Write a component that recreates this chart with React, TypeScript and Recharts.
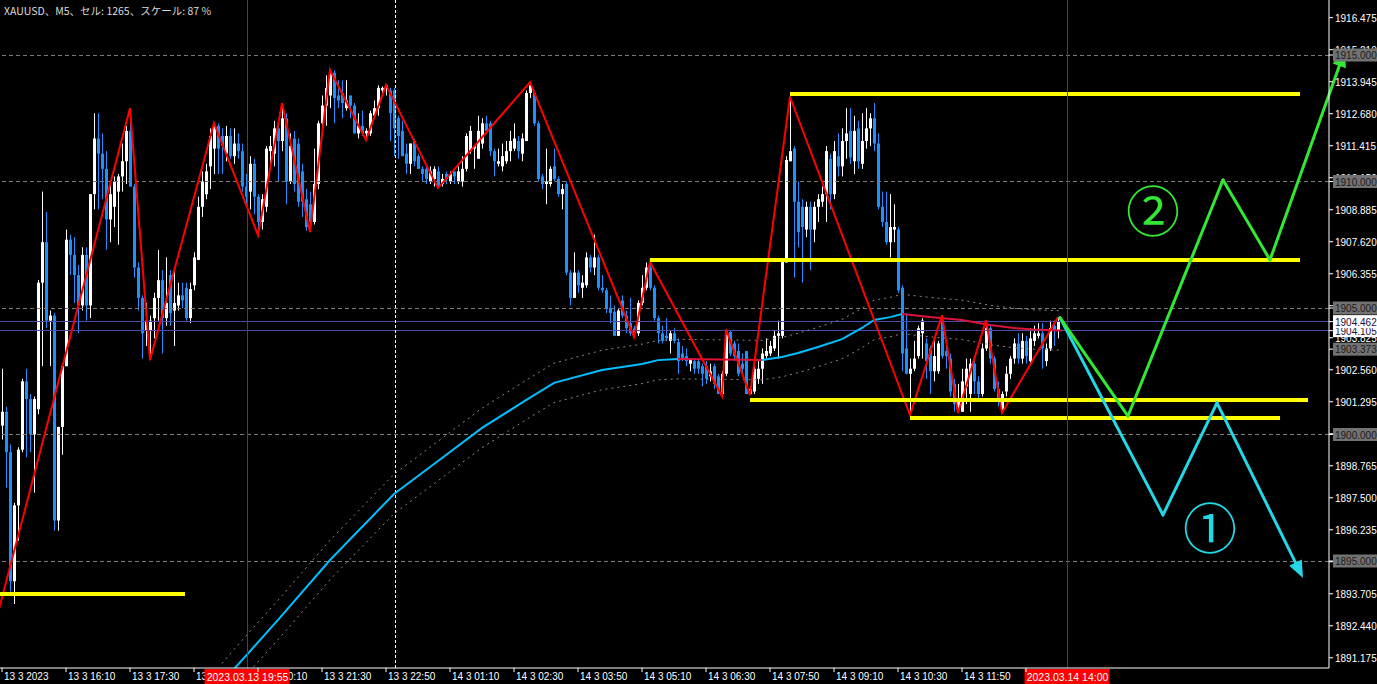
import React from 'react';
import { ComposedChart, Bar, Line, XAxis, YAxis, ReferenceLine, ReferenceDot } from 'recharts';

// XAUUSD M5 candles, [open, high, low, close], one row per 5 minute bar
const OHLC: [number, number, number, number][] = [
  [1900.35, 1902.6, 1899.8, 1900.9], [1900.9, 1901.1, 1897.9, 1899.3], [1899.3, 1899.6, 1893.8, 1894.2], [1894.2, 1897.3, 1893.3, 1897.2],
  [1897.2, 1899.5, 1895.8, 1899.4], [1899.4, 1902.2, 1899.3, 1902.1], [1902.1, 1902.6, 1899.1, 1901.4], [1901.4, 1901.6, 1899.3, 1900.0],
  [1900.0, 1901.5, 1897.7, 1901.4], [1901.0, 1906.1, 1900.8, 1906.0], [1906.0, 1909.6, 1902.7, 1907.6], [1907.6, 1908.8, 1904.2, 1904.5],
  [1904.5, 1904.9, 1902.7, 1904.7], [1904.7, 1904.8, 1896.2, 1896.6], [1896.6, 1900.3, 1896.2, 1900.3], [1900.3, 1902.8, 1899.2, 1902.7],
  [1902.7, 1908.1, 1902.7, 1907.7], [1907.7, 1907.9, 1906.3, 1907.1], [1907.1, 1907.8, 1905.2, 1906.3], [1906.3, 1906.7, 1904.0, 1905.1],
  [1905.1, 1907.4, 1904.9, 1907.1], [1907.1, 1907.4, 1904.5, 1905.1], [1905.1, 1909.5, 1904.6, 1909.5], [1909.5, 1912.7, 1908.9, 1911.7],
  [1911.7, 1912.7, 1908.9, 1911.1], [1911.1, 1911.9, 1909.3, 1910.5], [1910.5, 1911.2, 1907.3, 1908.5], [1908.5, 1909.9, 1907.6, 1909.5],
  [1909.0, 1910.2, 1908.2, 1910.0], [1909.6, 1910.3, 1907.5, 1910.2], [1910.2, 1911.5, 1909.6, 1910.8], [1910.8, 1912.2, 1909.9, 1912.0],
  [1912.0, 1912.9, 1909.8, 1909.8], [1909.8, 1909.9, 1906.2, 1906.6], [1906.6, 1906.8, 1904.9, 1905.4], [1905.4, 1905.5, 1903.0, 1904.0],
  [1904.1, 1905.2, 1903.5, 1904.5], [1904.1, 1904.7, 1902.94, 1904.5], [1904.6, 1905.6, 1903.8, 1905.4], [1905.4, 1907.3, 1904.5, 1906.1],
  [1906.1, 1906.5, 1903.2, 1904.6], [1904.6, 1907.0, 1904.3, 1905.2], [1906.3, 1906.5, 1904.3, 1904.8], [1904.9, 1906.5, 1903.5, 1905.2],
  [1905.1, 1906.0, 1904.9, 1905.5], [1905.5, 1906.0, 1905.0, 1905.3], [1905.8, 1906.0, 1904.5, 1904.6], [1904.6, 1906.0, 1904.4, 1905.75],
  [1905.9, 1907.2, 1905.7, 1907.0], [1906.9, 1909.4, 1906.9, 1909.0], [1909.0, 1910.4, 1908.6, 1910.0], [1909.5, 1910.7, 1909.3, 1910.4],
  [1910.6, 1912.1, 1909.7, 1911.8], [1911.3, 1912.31, 1910.3, 1912.2], [1912.2, 1912.3, 1910.3, 1911.3], [1911.8, 1912.1, 1910.3, 1911.4],
  [1911.1, 1912.2, 1910.8, 1911.8], [1911.8, 1912.1, 1910.9, 1911.0], [1911.0, 1912.1, 1910.7, 1911.5], [1911.5, 1911.9, 1910.9, 1911.2],
  [1911.2, 1911.5, 1909.6, 1909.8], [1909.8, 1910.3, 1909.0, 1909.4], [1909.6, 1911.0, 1908.9, 1910.7], [1910.7, 1910.9, 1908.7, 1909.4],
  [1909.4, 1909.5, 1907.88, 1908.4], [1908.4, 1909.5, 1908.1, 1909.3], [1909.0, 1911.4, 1908.8, 1911.3], [1911.2, 1911.8, 1910.5, 1911.4],
  [1911.1, 1912.4, 1910.6, 1912.1], [1912.1, 1912.4, 1910.0, 1911.6], [1911.6, 1913.1, 1911.2, 1912.5], [1912.5, 1912.7, 1909.1, 1910.0],
  [1910.0, 1911.9, 1909.9, 1911.4], [1911.7, 1912.0, 1909.6, 1909.9], [1911.5, 1911.7, 1909.0, 1909.2], [1910.4, 1910.7, 1908.6, 1909.2],
  [1909.3, 1909.7, 1908.05, 1908.2], [1909.1, 1909.6, 1908.0, 1908.4], [1908.4, 1911.3, 1908.3, 1909.9], [1909.9, 1912.4, 1909.7, 1912.3],
  [1912.3, 1913.4, 1911.9, 1913.0], [1913.0, 1914.2, 1912.2, 1913.7], [1913.4, 1914.41, 1912.9, 1914.3], [1914.3, 1914.4, 1912.3, 1913.3],
  [1913.4, 1914.0, 1912.9, 1913.2], [1913.5, 1914.0, 1912.5, 1913.1], [1912.9, 1914.0, 1912.8, 1913.2], [1913.4, 1913.4, 1912.5, 1913.0],
  [1913.0, 1913.1, 1911.9, 1911.9], [1911.9, 1912.7, 1911.7, 1912.2], [1912.2, 1912.8, 1911.8, 1911.9], [1911.9, 1912.1, 1911.64, 1912.0],
  [1911.9, 1912.8, 1911.8, 1912.7], [1912.6, 1913.2, 1912.5, 1912.9], [1912.9, 1913.8, 1912.6, 1913.7], [1913.6, 1913.75, 1913.4, 1913.7],
  [1913.7, 1913.81, 1913.4, 1913.8], [1913.6, 1913.7, 1911.6, 1912.7], [1913.6, 1913.7, 1911.0, 1912.1], [1912.5, 1912.6, 1910.9, 1911.8],
  [1912.0, 1912.4, 1911.0, 1911.0], [1911.1, 1911.5, 1910.3, 1910.7], [1910.7, 1911.5, 1910.3, 1911.5], [1911.6, 1911.7, 1910.6, 1910.8],
  [1911.0, 1911.1, 1910.5, 1910.5], [1910.5, 1910.6, 1910.0, 1910.3], [1910.5, 1910.6, 1909.9, 1910.1], [1910.0, 1910.6, 1909.9, 1910.4],
  [1910.1, 1910.6, 1909.8, 1910.5], [1910.4, 1910.6, 1909.74, 1909.8], [1909.9, 1910.3, 1909.8, 1910.1], [1910.3, 1910.4, 1909.9, 1910.1],
  [1910.0, 1910.4, 1909.9, 1910.3], [1910.4, 1910.4, 1909.9, 1910.2], [1910.0, 1910.6, 1909.9, 1910.4], [1910.0, 1911.0, 1909.8, 1910.5],
  [1910.5, 1911.9, 1910.4, 1911.8], [1911.2, 1912.2, 1911.1, 1912.0], [1911.3, 1911.4, 1910.5, 1911.4], [1910.9, 1912.6, 1910.9, 1912.0],
  [1911.5, 1912.5, 1911.3, 1912.3], [1912.3, 1912.6, 1911.9, 1912.0], [1912.3, 1912.4, 1911.0, 1911.2], [1911.2, 1911.3, 1910.2, 1910.8],
  [1910.7, 1911.3, 1910.6, 1910.8], [1910.6, 1911.5, 1910.4, 1911.0], [1910.8, 1911.6, 1910.7, 1911.2], [1911.2, 1912.0, 1910.8, 1911.6],
  [1911.3, 1912.3, 1911.2, 1911.7], [1911.6, 1911.8, 1910.9, 1911.2], [1911.1, 1911.9, 1910.8, 1911.7], [1911.6, 1913.6, 1911.6, 1913.5],
  [1913.5, 1913.93, 1913.3, 1913.8], [1913.5, 1913.6, 1912.2, 1912.3], [1912.3, 1912.4, 1910.0, 1910.1], [1910.2, 1910.3, 1909.7, 1909.9],
  [1909.9, 1911.3, 1909.1, 1910.0], [1909.9, 1910.6, 1909.8, 1910.5], [1910.6, 1911.3, 1910.0, 1910.1], [1910.1, 1910.2, 1909.4, 1909.5],
  [1909.5, 1909.9, 1908.9, 1909.7], [1909.9, 1910.0, 1906.3, 1906.4], [1906.4, 1906.5, 1905.1, 1905.4], [1905.4, 1907.2, 1905.4, 1906.4],
  [1906.4, 1906.5, 1905.6, 1905.9], [1905.8, 1906.3, 1905.4, 1906.0], [1905.9, 1907.2, 1905.8, 1907.0], [1907.0, 1907.1, 1906.4, 1906.6],
  [1906.6, 1907.9, 1906.3, 1907.0], [1907.0, 1907.1, 1905.7, 1905.8], [1905.8, 1906.3, 1905.6, 1905.7], [1905.7, 1905.8, 1904.8, 1905.0],
  [1905.0, 1905.5, 1904.4, 1904.8], [1904.85, 1905.1, 1903.9, 1903.9], [1903.9, 1905.0, 1903.9, 1904.9], [1905.3, 1905.5, 1904.6, 1904.7],
  [1904.7, 1904.9, 1904.0, 1904.2], [1904.4, 1905.4, 1903.9, 1904.0], [1904.2, 1904.3, 1903.85, 1904.0], [1904.0, 1905.3, 1903.9, 1905.2],
  [1905.2, 1906.3, 1905.1, 1905.8], [1905.8, 1906.8, 1905.7, 1906.6], [1906.6, 1906.82, 1905.7, 1905.8], [1905.8, 1905.9, 1904.5, 1904.6],
  [1904.6, 1904.7, 1903.6, 1904.0], [1904.0, 1904.3, 1903.6, 1903.7], [1903.9, 1904.6, 1903.7, 1903.8], [1903.7, 1904.1, 1903.2, 1904.0],
  [1904.0, 1904.2, 1903.6, 1903.7], [1903.65, 1903.8, 1902.4, 1902.9], [1903.2, 1903.5, 1902.9, 1903.0], [1903.1, 1903.4, 1902.7, 1902.9],
  [1902.8, 1903.0, 1902.5, 1903.0], [1902.9, 1903.0, 1902.4, 1902.6], [1902.9, 1903.0, 1902.4, 1902.6], [1902.7, 1902.8, 1901.9, 1902.4],
  [1902.7, 1902.9, 1902.0, 1902.2], [1902.3, 1902.8, 1902.1, 1902.5], [1902.7, 1902.8, 1901.8, 1902.0], [1902.3, 1902.4, 1901.6, 1901.6],
  [1901.6, 1902.5, 1901.52, 1902.4], [1902.4, 1904.16, 1902.3, 1904.1], [1904.05, 1904.1, 1903.1, 1903.2], [1903.6, 1903.7, 1902.9, 1903.1],
  [1903.3, 1903.6, 1902.3, 1902.4], [1902.8, 1903.2, 1902.4, 1902.6], [1903.3, 1903.3, 1901.6, 1901.6], [1901.6, 1901.9, 1901.56, 1901.8],
  [1901.7, 1902.7, 1901.6, 1902.6], [1902.2, 1902.9, 1902.0, 1902.6], [1902.6, 1903.4, 1902.0, 1903.2], [1903.1, 1903.8, 1903.0, 1903.3],
  [1903.2, 1903.7, 1903.1, 1903.5], [1903.4, 1904.1, 1903.3, 1903.9], [1903.9, 1904.5, 1903.0, 1904.0], [1903.9, 1906.9, 1903.8, 1906.9],
  [1906.8, 1911.0, 1906.8, 1910.85], [1910.8, 1913.35, 1910.8, 1911.2], [1911.3, 1911.4, 1906.2, 1909.2], [1909.2, 1910.0, 1907.4, 1908.0],
  [1909.0, 1909.3, 1906.0, 1908.2], [1908.1, 1909.2, 1907.8, 1909.0], [1909.0, 1909.2, 1906.5, 1908.1], [1908.1, 1909.2, 1907.6, 1909.0],
  [1909.0, 1909.5, 1908.4, 1909.3], [1909.2, 1909.8, 1909.0, 1909.5], [1909.5, 1911.4, 1908.4, 1911.2], [1910.9, 1911.1, 1908.9, 1909.5],
  [1909.5, 1911.6, 1909.3, 1911.2], [1911.0, 1911.9, 1910.2, 1910.6], [1910.6, 1912.1, 1910.2, 1911.6], [1911.6, 1912.9, 1910.9, 1911.9],
  [1912.0, 1912.9, 1910.7, 1910.95], [1910.8, 1912.6, 1910.3, 1912.0], [1912.1, 1912.4, 1910.5, 1910.8], [1910.7, 1912.7, 1910.5, 1911.6],
  [1911.6, 1912.9, 1911.3, 1912.1], [1912.1, 1912.7, 1911.4, 1912.5], [1912.5, 1913.1, 1911.2, 1911.5], [1911.5, 1911.9, 1908.9, 1909.0],
  [1909.0, 1909.6, 1908.2, 1908.4], [1908.4, 1909.6, 1907.5, 1907.6], [1907.6, 1909.5, 1907.0, 1908.2], [1908.1, 1909.1, 1907.6, 1908.2],
  [1908.1, 1908.2, 1905.6, 1905.7], [1905.8, 1905.9, 1902.5, 1903.2], [1903.4, 1904.8, 1902.4, 1902.4], [1902.4, 1903.0, 1900.77, 1902.6],
  [1902.6, 1903.7, 1902.5, 1903.0], [1903.1, 1904.3, 1903.0, 1904.2], [1904.0, 1904.6, 1903.0, 1904.5], [1903.6, 1903.8, 1902.2, 1902.9],
  [1903.4, 1903.5, 1901.6, 1902.5], [1902.5, 1903.7, 1902.1, 1903.1], [1902.5, 1903.7, 1902.4, 1903.6], [1904.5, 1904.72, 1903.0, 1903.1],
  [1903.3, 1903.5, 1902.6, 1903.1], [1903.0, 1903.2, 1901.5, 1901.7], [1902.0, 1902.2, 1900.9, 1901.2], [1901.1, 1902.0, 1900.85, 1901.3],
  [1900.9, 1902.6, 1900.9, 1902.1], [1901.9, 1903.0, 1901.2, 1902.6], [1901.6, 1903.0, 1900.9, 1902.8], [1902.8, 1903.0, 1901.6, 1902.1],
  [1902.1, 1902.3, 1901.4, 1901.6], [1901.6, 1903.6, 1901.5, 1903.4], [1903.4, 1904.52, 1903.3, 1904.2], [1904.2, 1904.3, 1902.8, 1903.0],
  [1903.0, 1903.1, 1901.7, 1901.8], [1901.8, 1902.1, 1901.1, 1901.3], [1901.0, 1901.7, 1900.85, 1901.6], [1901.7, 1902.7, 1901.5, 1902.4],
  [1902.4, 1903.1, 1902.2, 1903.0], [1903.0, 1903.8, 1902.8, 1903.6], [1903.6, 1904.0, 1902.8, 1903.0], [1903.0, 1904.0, 1902.8, 1903.7],
  [1903.7, 1903.9, 1902.8, 1903.1], [1902.9, 1904.2, 1902.8, 1903.8], [1903.7, 1904.3, 1903.5, 1904.0], [1903.9, 1904.4, 1903.8, 1904.0],
  [1904.0, 1904.4, 1902.6, 1903.4], [1902.9, 1903.6, 1902.7, 1903.4], [1903.4, 1904.5, 1903.3, 1904.2], [1904.3, 1904.5, 1903.5, 1904.1],
  [1904.1, 1904.64, 1903.8, 1904.46],
];

// time axis: bar index of each label and its text
const TIME_TICK_INDEX = [0, 16, 32, 48, 64, 80, 96, 112, 128, 144, 160, 176, 192, 208, 224, 240, 256];
const TIME_TICK_LABELS = [
  '13 3 2023', '13 3 16:10', '13 3 17:30', '13 3 18:50', '13 3 20:10', '13 3 21:30', '13 3 22:50', '14 3 01:10',
  '14 3 02:30', '14 3 03:50', '14 3 05:10', '14 3 06:30', '14 3 07:50', '14 3 09:10', '14 3 10:30', '14 3 11:50', '14 3 13:10',
];

// price scale labels
const PRICE_TICKS = [
  1916.475, 1915.21, 1913.945, 1912.68, 1911.415, 1910.15, 1908.885, 1907.62, 1906.355, 1905.09, 1903.825,
  1902.56, 1901.295, 1900.03, 1898.765, 1897.5, 1896.235, 1894.97, 1893.705, 1892.44, 1891.175,
];
const GRID_LEVELS = [1915, 1910, 1905, 1900, 1895];
const GREY_BOX_PRICES = [1915, 1910, 1905, 1900, 1895, 1903.373];
const WHITE_BOX_PRICES = [1904.105, 1904.462];
const BID_LINES = [1904.462, 1904.105];

// zigzag swing points
const ZZ_INDEX = [-2, 32, 37, 53, 64, 70, 77, 82, 91, 96, 109, 132, 158, 162, 180, 181, 187, 197, 227, 235, 239, 246, 250, 264];
const ZZ_PRICE = [
  1892.35, 1912.9, 1902.94, 1912.31, 1907.88, 1913.1, 1908.0, 1914.41, 1911.64, 1913.81, 1909.74, 1913.93,
  1903.85, 1906.82, 1901.52, 1904.16, 1901.56, 1913.35, 1900.77, 1904.72, 1900.85, 1904.52, 1900.85, 1904.64,
];

// moving average, split where its colour flips (rising = sky blue, falling = crimson)
const MA_UP_1 = [[55, 1890.17], [58, 1890.73], [69, 1892.67], [82, 1895.04], [98, 1897.65], [110, 1899.07], [120, 1900.26],
  [131, 1901.36], [138, 1902.04], [150, 1902.55], [160, 1902.79], [164, 1902.94], [169, 1902.98]];
const MA_DOWN_1 = [[169, 1902.98], [180, 1902.96], [190, 1902.94]];
const MA_UP_2 = [[190, 1902.94], [195, 1903.06], [199, 1903.22], [204, 1903.46], [210, 1903.77], [215, 1904.21], [218, 1904.53],
  [222, 1904.64], [225, 1904.76]];
const MA_DOWN_2 = [[225, 1904.76], [232, 1904.64], [240, 1904.53], [247, 1904.33], [253, 1904.21], [258, 1904.15], [265, 1904.11]];
const ENVELOPE_WIDTH = 0.78;

// yellow support / resistance levels
const LEVEL_PRICE = [1893.7, 1906.9, 1913.46, 1901.36, 1900.65];
const LEVEL_FROM = [-0.5, 162, 197, 187, 227];
const LEVEL_TO = [45.75, 324.5, 324.5, 326.5, 319.5];

// scenario paths
const GREEN_X = [264.5, 281.5, 305.25, 317, 335.75];
const GREEN_P = [1904.62, 1900.73, 1910.06, 1906.9, 1915.2];
const CYAN_X = [264.5, 290.25, 303.75, 325.25];
const CYAN_P = [1904.62, 1896.82, 1901.25, 1894.33];

const BULL = '#ffffff';
const BEAR = '#1e90ff';
const GREEN = '#33e833';
const CYAN = '#22d8e6';
const FONT = '"Liberation Sans", Arial, sans-serif';

const candleData = OHLC.map(([o, h, l, c], i) => ({ i, o, h, l, c, range: [l, h] }));
const toPts = (arr: number[][]) => arr.map(([i, p]) => ({ i, p }));
const maAll = [...MA_UP_1, ...MA_DOWN_1.slice(1), ...MA_UP_2.slice(1), ...MA_DOWN_2.slice(1)];
const envUpper = maAll.map(([i, p]) => ({ i, p: p + ENVELOPE_WIDTH }));
const envLower = maAll.map(([i, p]) => ({ i, p: p - ENVELOPE_WIDTH }));
const zigzag = ZZ_INDEX.map((i, k) => ({ i, p: ZZ_PRICE[k] }));

const Candle = (props: any) => {
  const { x, y, width, height, payload } = props;
  if (x == null || !payload) return null;
  const { o, h, l, c } = payload;
  const top = Math.min(y, y + height);
  const span = Math.abs(height);
  const py = (v: number) => (h === l ? top : top + ((h - v) / (h - l)) * span);
  const color = c >= o ? BULL : BEAR;
  const col = Math.round(x + width / 2);
  const bTop = py(Math.max(o, c));
  const bBot = py(Math.min(o, c));
  return (
    <g>
      <line x1={col + 0.5} x2={col + 0.5} y1={top} y2={top + span} stroke={color} strokeWidth={1} />
      <rect x={col - 1} y={bTop} width={3} height={Math.max(1, bBot - bTop)} fill={color} />
    </g>
  );
};

const EmptyTick = () => <g />;

const PriceTick = (props: any) => {
  const { x, y, payload } = props;
  const v = payload.value as number;
  const txt = v.toFixed(3);
  if (GREY_BOX_PRICES.includes(v) || WHITE_BOX_PRICES.includes(v)) {
    const white = WHITE_BOX_PRICES.includes(v);
    return (
      <g>
        <rect x={x - 2} y={y - 6.5} width={48} height={13} fill={white ? '#ffffff' : '#727272'} />
        <text x={x} y={y + 4} fill={white ? '#1a1040' : '#1c1c1c'} fontSize={10} fontFamily={FONT}>{txt}</text>
      </g>
    );
  }
  return (
    <text x={x} y={y + 4} fill="#ffffff" fontSize={10} fontFamily={FONT}>{txt}</text>
  );
};

// time labels drawn as reference-line labels so the red cursor boxes can sit on top of them
const timeLabel = (text: string) => (p: any) => {
  const vb = p.viewBox || {};
  return (
    <text x={vb.x + 2} y={680} fill="#ffffff" fontSize={10} fontFamily={FONT}>{text}</text>
  );
};

const cursorLabel = (text: string) => (p: any) => {
  const vb = p.viewBox || {};
  const cx = vb.x;
  const bottom = (vb.y || 0) + (vb.height || 0);
  return (
    <g>
      <rect x={cx - 43} y={bottom + 1} width={85} height={16} fill="#ff0000" />
      <text x={cx} y={bottom + 13} fill="#ffffff" fontSize={10.5} fontFamily={FONT} textAnchor="middle">{text}</text>
    </g>
  );
};

const arrowShape = (color: string) => (p: any) => {
  const { x1, y1, x2, y2 } = p;
  const a = Math.atan2(y2 - y1, x2 - x1);
  const len = 17;
  const half = 7;
  const bx = x2 - len * Math.cos(a);
  const by = y2 - len * Math.sin(a);
  const pts = [
    [x2, y2],
    [bx + half * Math.sin(a), by - half * Math.cos(a)],
    [bx - half * Math.sin(a), by + half * Math.cos(a)],
  ].map((q) => q.join(',')).join(' ');
  return (
    <g>
      <line x1={x1} y1={y1} x2={bx} y2={by} stroke={color} strokeWidth={3} strokeLinecap="round" />
      <polygon points={pts} fill={color} />
    </g>
  );
};

const circledText = (text: string, color: string) => (p: any) => (
  <text x={p.cx} y={p.cy + 19} fill={color} fontSize={54} fontFamily='"Noto Sans CJK JP", sans-serif' textAnchor="middle">
    {text}
  </text>
);

const pathSegments = (xs: number[], ps: number[], color: string, key: string) =>
  xs.slice(1).map((x, k) => {
    const seg = [{ x: xs[k], y: ps[k] }, { x, y: ps[k + 1] }];
    const last = k === xs.length - 2;
    return (
      <ReferenceLine
        key={`${key}-${k}`}
        segment={seg}
        stroke={color}
        strokeWidth={3}
        strokeLinecap="round"
        ifOverflow="visible"
        shape={last ? arrowShape(color) : undefined}
      />
    );
  });

const lineProps = { dataKey: 'p', dot: false, activeDot: false, isAnimationActive: false } as const;

export default function App() {
  return (
    <div style={{ position: 'relative', width: 1377, height: 684, background: '#000000', overflow: 'hidden' }}>
      <style>{'body{margin:0;background:#000}'}</style>
      <ComposedChart width={1377} height={684} data={candleData} margin={{ top: 0, right: 0, bottom: 0, left: 0 }}>
        <XAxis
          dataKey="i"
          type="number"
          domain={[-0.5, 331.75]}
          allowDataOverflow
          ticks={TIME_TICK_INDEX}
          interval={0}
          height={16}
          tickSize={4}
          tickMargin={0}
          axisLine={{ stroke: '#ffffff' }}
          tickLine={{ stroke: '#ffffff' }}
          tick={<EmptyTick />}
        />
        <YAxis
          orientation="right"
          type="number"
          domain={[1890.771, 1917.174]}
          allowDataOverflow
          ticks={[...PRICE_TICKS, ...GRID_LEVELS, 1903.373, ...WHITE_BOX_PRICES]}
          interval={0}
          width={48}
          tickSize={4}
          tickMargin={2}
          axisLine={{ stroke: '#ffffff' }}
          tickLine={{ stroke: '#ffffff' }}
          tick={<PriceTick />}
        />

        {GRID_LEVELS.map((v) => (
          <ReferenceLine key={`g${v}`} y={v} stroke="#7a7a7a" strokeDasharray="4 3" shapeRendering="crispEdges" />
        ))}
        {BID_LINES.map((v) => (
          <ReferenceLine key={`b${v}`} y={v} stroke="#4a4aaa" shapeRendering="crispEdges" />
        ))}
        <ReferenceLine x={98.375} stroke="#ffffff" strokeDasharray="3 2" />

        <Bar dataKey="range" barSize={3} shape={(p: any) => <Candle {...p} />} activeBar={false} isAnimationActive={false} />

        <Line data={envUpper} {...lineProps} stroke="#8a8a8a" strokeWidth={1} strokeDasharray="2 4" />
        <Line data={envLower} {...lineProps} stroke="#8a8a8a" strokeWidth={1} strokeDasharray="2 4" />
        <Line data={toPts(MA_UP_1)} {...lineProps} stroke="#00bfff" strokeWidth={2} />
        <Line data={toPts(MA_DOWN_1)} {...lineProps} stroke="#dc143c" strokeWidth={2} />
        <Line data={toPts(MA_UP_2)} {...lineProps} stroke="#00bfff" strokeWidth={2} />
        <Line data={toPts(MA_DOWN_2)} {...lineProps} stroke="#dc143c" strokeWidth={2} />
        <Line data={zigzag} {...lineProps} stroke="#ff0000" strokeWidth={2} />

        {LEVEL_PRICE.map((v, k) => (
          <ReferenceLine
            key={`lv${k}`}
            segment={[{ x: LEVEL_FROM[k], y: v }, { x: LEVEL_TO[k], y: v }]}
            stroke="#ffff00"
            strokeWidth={4}
            ifOverflow="visible"
          />
        ))}

        {TIME_TICK_INDEX.map((t, k) => (
          <ReferenceLine key={`t${t}`} x={t} stroke="none" ifOverflow="visible" label={timeLabel(TIME_TICK_LABELS[k])} />
        ))}
        <ReferenceLine x={61.375} stroke="#e60000" label={cursorLabel('2023.03.13 19:55')} />
        <ReferenceLine x={266.375} stroke="#e60000" label={cursorLabel('2023.03.14 14:00')} />

        {pathSegments(CYAN_X, CYAN_P, CYAN, 'cy')}
        {pathSegments(GREEN_X, GREEN_P, GREEN, 'gr')}
        <ReferenceDot x={287.75} y={1908.76} r={0} ifOverflow="visible" shape={circledText('②', GREEN)} />
        <ReferenceDot x={302} y={1896.23} r={0} ifOverflow="visible" shape={circledText('①', CYAN)} />
      </ComposedChart>
      <div
        style={{
          position: 'absolute', left: 4, top: 3, color: '#dcdcdc', fontSize: 10.5,
          fontFamily: '"Noto Sans CJK JP", sans-serif', whiteSpace: 'nowrap',
        }}
      >
        XAUUSD、M5、セル: 1265、スケール: 87 %
      </div>
    </div>
  );
}
